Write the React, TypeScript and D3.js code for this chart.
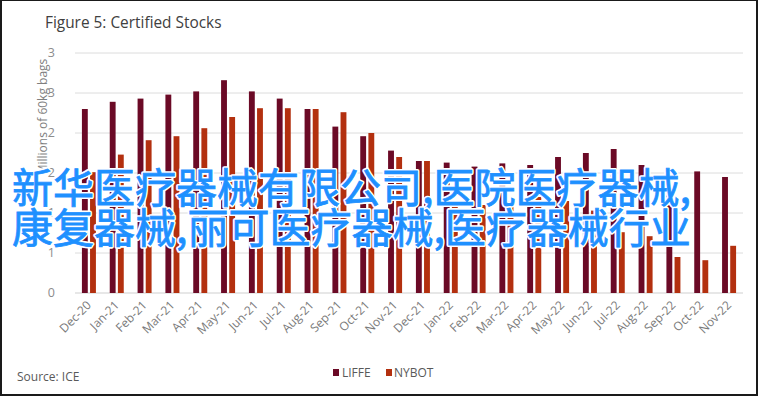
import React from "react";
import * as d3 from "d3";

const months = ["Dec-20","Jan-21","Feb-21","Mar-21","Apr-21","May-21","Jun-21","Jul-21","Aug-21","Sep-21","Oct-21","Nov-21","Dec-21","Jan-22","Feb-22","Mar-22","Apr-22","May-22","Jun-22","Jul-22","Aug-22","Sep-22","Oct-22","Nov-22"];
const liffe = [2.30,2.39,2.43,2.48,2.52,2.66,2.52,2.43,2.30,2.08,1.96,1.78,1.65,1.63,1.58,1.62,1.60,1.70,1.75,1.80,1.60,1.22,1.52,1.45];
const nybot = [1.51,1.73,1.91,1.96,2.06,2.20,2.31,2.31,2.30,2.26,2.00,1.70,1.65,1.15,1.10,1.15,1.20,1.15,1.03,0.76,0.71,0.45,0.41,0.59];
const seriesNames = ["LIFFE","NYBOT"];
const seriesColors = ["#6B0A26","#B3300F"];
const yTicks = [0,0.5,1,1.5,2,2.5,3];
const yTickLabels = ["0","1","1","2","2","3","3"];
const titleText = "Figure 5: Certified Stocks";
const yTitle = "Millions of 60kg bags";
const sourceText = "Source: ICE";
const overlayLines = ["新华医疗器械有限公司,医院医疗器械,","康复器械,丽可医疗器械,医疗器械行业"];

export default function App() {
  const W = 760, H = 399;
  const left = 75, right = 743, top = 53, bottom = 293;
  const x = d3.scaleBand<string>().domain(months).range([left, right]).paddingInner(0).paddingOuter(0);
  const inner = d3.scaleBand<string>().domain(seriesNames).range([0, 14]).paddingInner(0.28);
  const y = d3.scaleLinear().domain([0, 3]).range([bottom, top]);
  const series = [liffe, nybot];
  const font = "'Open Sans', 'Noto Sans', sans-serif";
  const bw = x.bandwidth();
  const off = (bw - 14) / 2;
  const cjk = "'Noto Sans CJK SC', sans-serif";
  return (
    <svg width={W} height={H} style={{ position: "absolute", left: 0, top: 0, background: "#fff" }} fontFamily={font}>
      <rect x={0} y={0} width={W} height={H} fill="#fff" />
      <rect x={1} y={0} width={756} height={395} fill="none" stroke="#1a1a1a" strokeWidth={2} />
      <text x={45} y={28} fontSize={15.4} fill="#404040">{titleText}</text>
      {yTicks.map((t, i) => (
        <g key={"g" + i}>
          <line x1={left} x2={right} y1={y(t)} y2={y(t)} stroke={t === 0 ? "#cfcfcf" : "#dcdcdc"} strokeWidth={1} />
          <text x={55} y={y(t)} dy="0.35em" textAnchor="end" fontSize={12.5} fill="#8c8c8c">{yTickLabels[i]}</text>
        </g>
      ))}
      <text transform={`translate(47,117) rotate(-90)`} textAnchor="middle" fontSize={12} fill="#7f7f7f">{yTitle}</text>
      {months.map((m, i) => (
        <g key={m}>
          {series.map((s, j) => (
            <rect key={j} x={(x(m) as number) + off + (inner(seriesNames[j]) as number)} y={y(s[i])} width={inner.bandwidth()} height={bottom - y(s[i])} fill={seriesColors[j]} />
          ))}
          <text transform={`translate(${(x(m) as number) + bw / 2 + 3},306) rotate(-45)`} textAnchor="end" fontSize={12} fill="#7a7a7a">{m}</text>
        </g>
      ))}
      <text x={17} y={381} fontSize={12} fill="#595959">{sourceText}</text>
      <g>
        <rect x={333} y={369} width={6} height={7} fill={seriesColors[0]} />
        <text x={342} y={377} fontSize={12} fill="#595959">{seriesNames[0]}</text>
        <rect x={386} y={369} width={6} height={7} fill={seriesColors[1]} />
        <text x={394} y={377} fontSize={12} fill="#595959">{seriesNames[1]}</text>
      </g>
      {overlayLines.map((l, i) => (
        <g key={i}>
          <text x={12} y={203 + i * 40} fontSize={41} fill="#fff" stroke="#fff" strokeWidth={4} strokeLinejoin="round" fontFamily={cjk}>{l}</text>
          <text x={12} y={203 + i * 40} fontSize={41} fill="#1E90FF" stroke="#1E90FF" strokeWidth={0.8} fontFamily={cjk}>{l}</text>
        </g>
      ))}
    </svg>
  );
}
